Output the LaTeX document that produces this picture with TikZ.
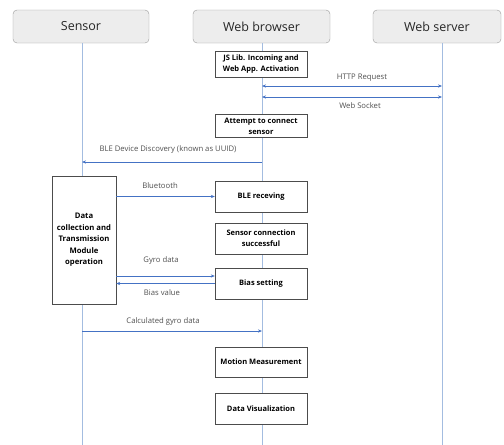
\documentclass[tikz,border=0pt]{standalone}
\usepackage{fontspec}
\setmainfont{Open Sans}
\usetikzlibrary{arrows.meta}

\definecolor{lifeblue}{HTML}{A3BCE0}
\definecolor{msgblue}{HTML}{4472C4}
\definecolor{headfill}{HTML}{EDEDED}
\definecolor{headline}{HTML}{9A9A9A}
\definecolor{labelgray}{HTML}{505050}

\tikzset{
	header/.style={draw=headline, fill=headfill, rounded corners=4pt, minimum height=33pt,
		font=\fontsize{12.5}{14}\selectfont, text=black!85},
	stepbox/.style={draw=black!70, fill=white, align=center, minimum width=92pt, inner sep=1pt,
		font=\bfseries\fontsize{7.5}{10.8}\selectfont},
	lifeline/.style={draw=lifeblue, line width=0.7pt},
	msg/.style={draw=msgblue, line width=0.6pt, -{Stealth[length=4pt,width=3.2pt]}},
	msgtwo/.style={draw=msgblue, line width=0.6pt, {Stealth[length=4pt,width=3.2pt]}-{Stealth[length=4pt,width=3.2pt]}},
	msglabel/.style={text=labelgray, font=\fontsize{7.7}{9}\selectfont, inner sep=1pt}
}

\begin{document}
\begin{tikzpicture}[x=1pt,y=-1pt]
	\useasboundingbox (0,0) rectangle (504,445);
	\clip (0,0) rectangle (504,445);

	% lifelines
	\coordinate (sensorend) at (82,445);
	\coordinate (browserend) at (262,445);
	\coordinate (serverend) at (442,445);

	% participants
	\node[header, minimum width=136pt] (sensor) at (81,26.5) {Sensor};
	\node[header, minimum width=137pt] (browser) at (261.5,26.5) {Web browser};
	\node[header, minimum width=128pt] (server) at (437,26.5) {Web server};

	\draw[lifeline] (sensor.south -| sensorend) -- (sensorend);
	\draw[lifeline] (browser.south -| browserend) -- (browserend);
	\draw[lifeline] (server.south -| serverend) -- (serverend);

	% browser side steps
	\node[stepbox, minimum height=26pt] (jslib) at (261,64) {JS Lib. Incoming and\\Web App. Activation};
	\node[stepbox, minimum height=23pt] (attempt) at (261,126) {Attempt to connect\\sensor};
	\node[stepbox, minimum height=31pt] (blerecv) at (261,196.5) {BLE receving};
	\node[stepbox, minimum height=31pt] (connok) at (261,238.5) {Sensor connection\\successful};
	\node[stepbox, minimum height=31pt] (bias) at (261,283.5) {Bias setting};
	\node[stepbox, minimum height=30pt] (motion) at (261,362) {Motion Measurement};
	\node[stepbox, minimum height=31pt] (datavis) at (261,408.5) {Data Visualization};

	% sensor side module
	\node[stepbox, minimum width=64pt, minimum height=128pt, font=\bfseries\fontsize{7.7}{11.5}\selectfont] (module) at (84,240)
		{Data\\collection and\\Transmission\\Module\\operation};

	% message end points
	\coordinate (http1) at (262,86);
	\coordinate (http2) at (442,86);
	\coordinate (ws1) at (262,97);
	\coordinate (ws2) at (442,97);
	\coordinate (disc1) at (262,162);
	\coordinate (disc2) at (82,162);
	\coordinate (calc1) at (82,331);
	\coordinate (calc2) at (262,331);

	% messages
	\draw[msgtwo] (http1) -- (http2);
	\node[msglabel] (httplabel) at (362,78) {HTTP Request};
	\draw[msgtwo] (ws1) -- (ws2);
	\node[msglabel] (wslabel) at (360,106) {Web Socket};

	\draw[msg] (disc1) -- (disc2);
	\node[msglabel] (disclabel) at (168,149) {BLE Device Discovery (known as UUID)};

	\draw[msg] (module.east |- blerecv.west) -- (blerecv.west);
	\node[msglabel] (btlabel) at (160,186) {Bluetooth};

	\draw[msg] ([yshift=7.5pt]module.east |- bias.west) -- ([yshift=7.5pt]bias.west);
	\node[msglabel] (gyrolabel) at (161,260) {Gyro data};
	\draw[msg] (bias.west) -- (module.east |- bias.west);
	\node[msglabel] (biaslabel) at (162,293) {Bias value};

	\draw[msg] (calc1) -- (calc2);
	\node[msglabel] (calclabel) at (163,321) {Calculated gyro data};

\end{tikzpicture}
\end{document}
